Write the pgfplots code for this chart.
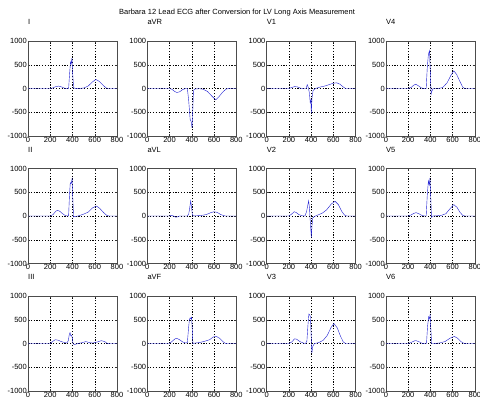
\documentclass[border=0pt]{standalone}
\usepackage{fontspec}
\setmainfont{Liberation Sans}
\usepackage{pgfplots}
\pgfplotsset{compat=1.18}
\usepgfplotslibrary{groupplots}
\definecolor{ecgblue}{RGB}{30,30,210}

\begin{document}
\begin{tikzpicture}
\begin{groupplot}[
    group style={group size=4 by 3, horizontal sep=30.3pt, vertical sep=32.5pt},
    scale only axis, width=89pt, height=95pt,
    xmin=0, xmax=800, ymin=-1000, ymax=1000,
    xtick={0,200,...,800}, ytick={-1000,-500,0,500,1000},
    scaled ticks=false,
    /pgf/number format/1000 sep={},
    /pgf/number format/assume math mode=true,
    grid=major,
    grid style={black, line width=0.4pt, dash pattern=on 1.2pt off 1.6pt},
    tick align=inside, major tick length=2pt,
    tick style={black!80, line width=0.4pt},
    axis line style={black!70, line width=0.5pt},
    tick label style={font=\fontsize{7.5}{8}\selectfont, inner sep=1pt},
    title style={at={(0,1)}, anchor=south west, inner sep=0pt, yshift=10pt,
                 font=\fontsize{7.5}{8}\selectfont},
    no markers,
    cycle list={{ecgblue, line width=0.6pt, mark=none}},
]
% row 1
\nextgroupplot[title=I]
\addplot coordinates {(0,0)(200,0)(220,10)(250,40)(275,50)(300,35)(330,5)(350,0)(365,0)(372,250)(382,560)(388,520)(395,640)(402,300)(410,20)(420,5)(450,0)(500,10)(540,50)(580,140)(610,190)(640,150)(670,80)(700,15)(720,0)(800,0)};
\coordinate (tl) at (rel axis cs:0,1);
\nextgroupplot[title=aVR]
\addplot coordinates {(0,0)(200,0)(220,-15)(245,-60)(265,-85)(290,-70)(320,-20)(345,0)(360,0)(372,-250)(385,-650)(395,-700)(402,-830)(408,-500)(415,-40)(430,-10)(470,-5)(500,-15)(540,-60)(580,-160)(615,-240)(645,-170)(680,-70)(710,-10)(740,0)(800,0)};
\nextgroupplot[title=V1]
\addplot coordinates {(0,0)(200,0)(225,20)(250,40)(275,35)(300,10)(330,0)(355,0)(365,80)(375,20)(385,-100)(392,-300)(398,-250)(402,-520)(408,-200)(418,-40)(440,0)(480,30)(520,50)(560,80)(600,110)(630,120)(660,90)(690,30)(710,0)(800,0)};
\nextgroupplot[title=V4]
\addplot coordinates {(0,0)(200,0)(225,20)(250,70)(268,90)(290,60)(320,10)(350,0)(362,0)(372,450)(382,720)(392,800)(400,300)(406,-120)(412,-60)(425,0)(470,0)(510,20)(550,120)(585,280)(610,370)(635,300)(665,150)(690,30)(710,0)(800,0)};
% row 2
\nextgroupplot[title=II]
\addplot coordinates {(0,0)(200,0)(225,30)(250,100)(265,120)(285,100)(310,50)(335,10)(355,0)(365,0)(372,400)(380,700)(388,680)(396,780)(403,350)(410,-20)(420,-10)(450,0)(500,40)(540,80)(580,170)(615,210)(645,160)(680,70)(710,10)(730,0)(800,0)};
\nextgroupplot[title=aVL]
\addplot coordinates {(0,0)(200,0)(215,15)(235,0)(255,-25)(270,-20)(290,0)(360,0)(372,40)(380,150)(390,320)(397,200)(405,30)(415,0)(440,5)(480,10)(530,30)(570,70)(600,90)(630,75)(660,30)(700,0)(800,0)};
\nextgroupplot[title=V2]
\addplot coordinates {(0,0)(200,0)(225,40)(248,90)(265,75)(290,30)(320,5)(345,0)(360,100)(372,250)(378,320)(386,150)(392,-100)(398,-300)(402,-450)(408,-200)(415,-40)(430,-10)(460,20)(500,60)(540,130)(580,250)(615,310)(645,240)(675,100)(700,20)(720,0)(800,0)};
\nextgroupplot[title=V5]
\addplot coordinates {(0,0)(200,0)(225,20)(250,55)(270,70)(295,50)(325,10)(350,0)(362,0)(372,450)(382,740)(390,650)(396,800)(403,400)(410,-30)(420,0)(460,5)(500,15)(540,50)(575,150)(610,240)(640,180)(665,80)(690,15)(710,0)(800,0)};
% row 3
\nextgroupplot[title=III]
\addplot coordinates {(0,0)(200,0)(220,40)(245,80)(270,70)(300,40)(330,20)(350,10)(362,60)(372,200)(378,230)(385,160)(392,170)(398,120)(405,-10)(420,-20)(450,0)(490,20)(520,40)(550,20)(580,10)(620,30)(660,60)(690,40)(710,5)(730,0)(800,0)};
\nextgroupplot[title=aVF]
\addplot coordinates {(0,0)(200,0)(225,50)(250,100)(265,110)(290,80)(320,30)(345,10)(360,20)(370,300)(378,500)(385,540)(392,520)(398,550)(404,300)(410,0)(430,10)(470,20)(520,50)(560,80)(595,140)(620,150)(650,110)(680,40)(700,5)(720,0)(800,0)};
\nextgroupplot[title=V3]
\addplot coordinates {(0,0)(200,0)(225,30)(252,100)(270,90)(300,40)(330,10)(350,0)(362,50)(372,400)(380,620)(388,600)(394,560)(400,200)(407,-200)(415,-60)(430,0)(470,20)(510,70)(545,170)(580,340)(605,420)(635,330)(665,150)(690,30)(710,0)(800,0)};
\nextgroupplot[title=V6]
\addplot coordinates {(0,0)(200,0)(225,20)(255,55)(270,60)(295,40)(325,5)(350,0)(365,0)(374,350)(384,560)(391,520)(397,600)(404,300)(411,0)(430,0)(480,10)(530,40)(575,110)(615,150)(645,110)(675,40)(700,5)(720,0)(800,0)};
\end{groupplot}
\node[font=\fontsize{7.5}{8}\selectfont, inner sep=0pt] at ([shift={(209pt,28pt)}]tl)
    {Barbara 12 Lead ECG after Conversion for LV Long Axis Measurement};
\pgfresetboundingbox
\path ([shift={(-28pt,41pt)}]tl) rectangle ++(480pt,-407pt);
\end{tikzpicture}
\end{document}
